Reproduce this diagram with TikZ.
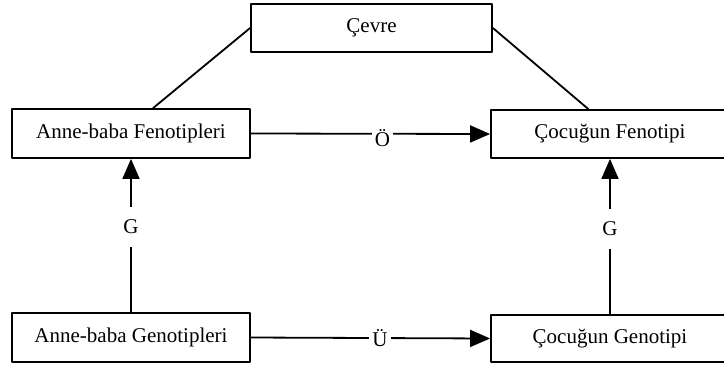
\documentclass[tikz,border=0pt]{standalone}
\usepackage{fontspec}
\setmainfont{Liberation Serif}
\usetikzlibrary{arrows.meta}
\begin{document}
\begin{tikzpicture}[x=1pt,y=-1pt,line cap=round,line join=round,
  box/.style={draw,line width=1.8pt,minimum height=48pt,inner sep=0pt,
    font=\fontsize{21}{25}\selectfont},
  lbl/.style={fill=white,inner sep=3pt,font=\fontsize{21}{25}\selectfont},
  link/.style={line width=1.8pt},
  arr/.style={line width=1.8pt,-{Triangle[length=20pt,width=17pt]}}]
  \useasboundingbox (0,0) rectangle (724,365);
  \clip (0,0) rectangle (724,365);

  % Top: environment box.
  \node[box,minimum width=241pt] (cevre) at (371.5,28) {Çevre};

  % Left column: parents.
  \node[box,minimum width=238pt,minimum height=49pt] (apf) at (131,133.5) {Anne-baba Fenotipleri};
  \node[box,minimum width=238pt,minimum height=49pt] (apg) at (131,337.5) {Anne-baba Genotipleri};

  % Right column: child (boxes run past the right edge).
  \node[box,minimum width=238pt] (cf) at (610,134) {Çocuğun Fenotipi};
  \node[box,minimum width=238pt,minimum height=47pt] (cg) at (610,338.5) {Çocuğun Genotipi};

  % Environment links.
  \draw[link] (cevre.west) -- (apf.49);
  \draw[link] (cevre.east) -- (cf.131);

  % Horizontal arrows.
  \draw[arr] (apf.east) -- node[lbl,pos=0.55,yshift=-4pt]{Ö} (cf.west);
  \draw[arr] (apg.east) -- node[lbl,pos=0.54]{Ü} (cg.west);

  % Vertical arrows.
  \draw[arr] (apg.north) -- node[lbl,pos=0.555,inner ysep=13pt]{G} (apf.south);
  \draw[arr] (cg.north) -- node[lbl,pos=0.55,inner ysep=13pt]{G} (cf.south);
\end{tikzpicture}
\end{document}
